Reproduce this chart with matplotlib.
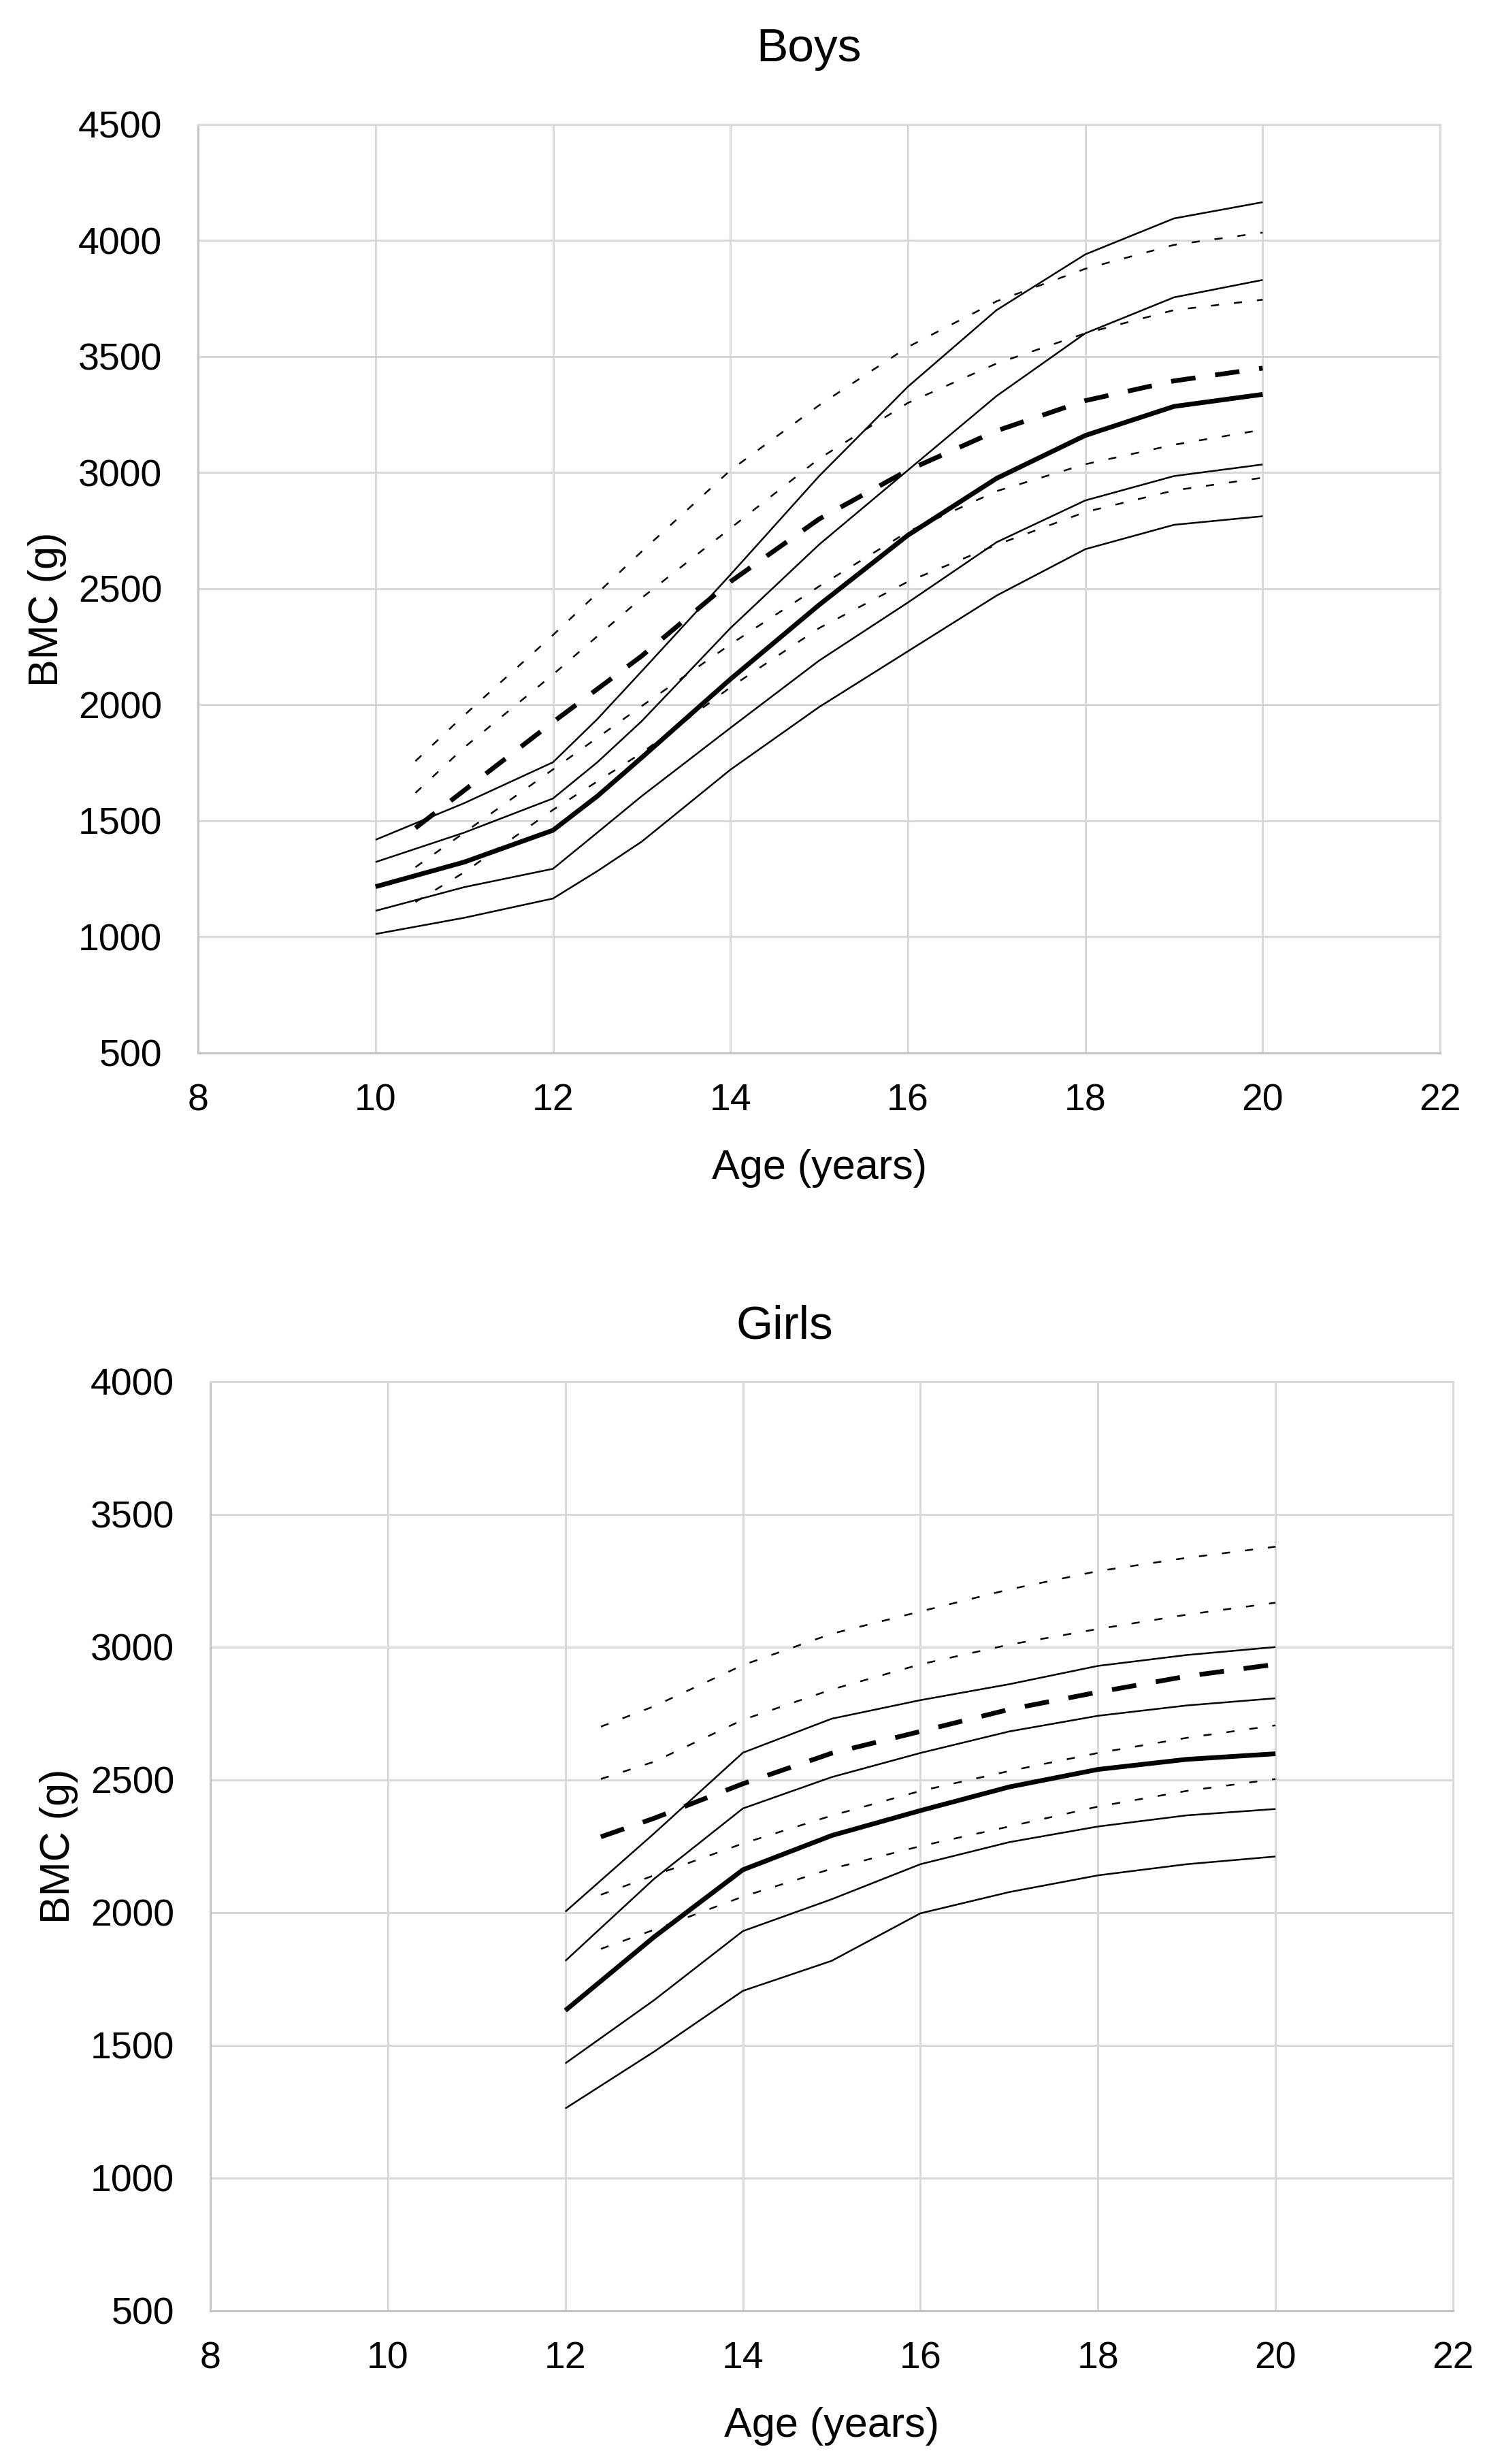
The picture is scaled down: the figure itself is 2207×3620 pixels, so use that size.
import matplotlib
matplotlib.use('Agg')
import matplotlib.pyplot as plt

# --------------------------
# Data (BMC in g, age in years)
# --------------------------
# Boys: solid curves
boys_solid_age = [10, 11, 12, 12.5, 13, 14, 15, 16, 17, 18, 19, 20]
boys_s1 = [1012, 1082, 1165, 1283, 1410, 1720, 1990, 2230, 2470, 2670, 2775, 2812]
boys_s2 = [1112, 1214, 1293, 1449, 1606, 1900, 2190, 2440, 2700, 2880, 2985, 3035]
boys_s3 = [1216, 1322, 1459, 1606, 1772, 2110, 2430, 2730, 2975, 3160, 3285, 3337]
boys_s4 = [1322, 1449, 1596, 1752, 1929, 2330, 2690, 3010, 3330, 3600, 3755, 3830]
boys_s5 = [1418, 1576, 1752, 1938, 2144, 2560, 2985, 3370, 3700, 3940, 4095, 4165]

# Boys: dashed curves
boys_dash_age = [10.45, 11, 12, 13, 14, 15, 16, 17, 18, 19, 20]
boys_d1 = [1150, 1278, 1547, 1792, 2075, 2330, 2530, 2689, 2830, 2923, 2978]
boys_d2 = [1300, 1449, 1721, 1994, 2260, 2510, 2745, 2920, 3036, 3120, 3185]
boys_d3 = [1469, 1631, 1925, 2210, 2530, 2800, 3010, 3180, 3310, 3395, 3450]
boys_d4 = [1620, 1816, 2130, 2460, 2760, 3060, 3300, 3470, 3600, 3700, 3745]
boys_d5 = [1757, 1955, 2300, 2660, 3010, 3290, 3541, 3738, 3878, 3981, 4034]

# Girls: solid curves
girls_solid_age = [12, 13, 14, 15, 16, 17, 18, 19, 20]
girls_s1 = [1262, 1476, 1705, 1818, 1997, 2077, 2140, 2182, 2211]
girls_s2 = [1432, 1670, 1930, 2050, 2182, 2265, 2324, 2366, 2390]
girls_s3 = [1631, 1908, 2161, 2290, 2384, 2473, 2539, 2577, 2598]
girls_s4 = [1818, 2127, 2392, 2510, 2601, 2682, 2741, 2780, 2807]
girls_s5 = [2003, 2298, 2602, 2730, 2800, 2860, 2929, 2970, 3000]

# Girls: dashed curves
girls_dash_age = [12.4, 13, 14, 15, 16, 17, 18, 19, 20]
girls_d1 = [1863, 1935, 2060, 2165, 2250, 2324, 2399, 2458, 2503]
girls_d2 = [2067, 2140, 2260, 2365, 2458, 2533, 2601, 2658, 2705]
girls_d3 = [2285, 2355, 2485, 2600, 2682, 2765, 2830, 2890, 2935]
girls_d4 = [2503, 2568, 2726, 2840, 2935, 3009, 3068, 3122, 3167]
girls_d5 = [2700, 2777, 2932, 3050, 3134, 3217, 3286, 3336, 3378]

x_ticks = [8, 10, 12, 14, 16, 18, 20, 22]
boys_y_ticks = [500, 1000, 1500, 2000, 2500, 3000, 3500, 4000, 4500]
girls_y_ticks = [500, 1000, 1500, 2000, 2500, 3000, 3500, 4000]

# --------------------------
# Styles
# --------------------------
plt.rcParams['font.family'] = ['Liberation Sans', 'DejaVu Sans']
grid_color = '#d9d9d9'
thin = 0.9
thick = 2.5
thin_dash = (0, (4.8, 8.8))
thick_dash = (0, (5.2, 4.2))


def draw_panel(ax, solid_age, solids, dash_age, dashes, y_ticks,
               title, title_x, title_pad, ylab_y):
    # solid curves, middle one is bold
    for i, ys in enumerate(solids):
        lw = thick if i == 2 else thin
        ax.plot(solid_age, ys, color='black', lw=lw, solid_capstyle='butt', zorder=3)
    # dashed curves, middle one is bold
    for i, ys in enumerate(dashes):
        if i == 2:
            ax.plot(dash_age, ys, color='black', lw=thick, linestyle=thick_dash,
                    dash_capstyle='butt', zorder=3)
        else:
            ax.plot(dash_age, ys, color='black', lw=thin, linestyle=thin_dash,
                    dash_capstyle='butt', zorder=3)

    ax.set_xlim(x_ticks[0], x_ticks[-1])
    ax.set_ylim(y_ticks[0], y_ticks[-1])
    ax.set_xticks(x_ticks)
    ax.set_yticks(y_ticks)
    ax.grid(True, color=grid_color, lw=1.1, zorder=0)
    ax.set_axisbelow(True)
    for sp in ax.spines.values():
        sp.set_color(grid_color)
        sp.set_linewidth(1.1)
    ax.spines['left'].set_color('#c4c4c4')
    ax.spines['bottom'].set_color('#c4c4c4')
    ax.tick_params(axis='both', length=0, labelsize=20, colors='black')
    ax.tick_params(axis='y', pad=19)
    ax.tick_params(axis='x', pad=16)
    ax.set_title(title, fontsize=25, pad=title_pad, x=title_x)
    ax.set_xlabel('Age (years)', fontsize=22, labelpad=16)
    ax.set_ylabel('BMC (g)', fontsize=22)
    ax.yaxis.set_label_coords(-0.106, ylab_y)


# --------------------------
# Figure
# --------------------------
fig = plt.figure(figsize=(11.035, 18.1), dpi=200)

ax1 = fig.add_axes([0.1319, 0.5727, 0.8269, 0.3768])
draw_panel(ax1, boys_solid_age, [boys_s1, boys_s2, boys_s3, boys_s4, boys_s5],
           boys_dash_age, [boys_d1, boys_d2, boys_d3, boys_d4, boys_d5],
           boys_y_ticks, 'Boys', 0.4915, 33.5, 0.478)

ax2 = fig.add_axes([0.1400, 0.0622, 0.8274, 0.3771])
draw_panel(ax2, girls_solid_age, [girls_s1, girls_s2, girls_s3, girls_s4, girls_s5],
           girls_dash_age, [girls_d1, girls_d2, girls_d3, girls_d4, girls_d5],
           girls_y_ticks, 'Girls', 0.462, 22.7, 0.5)

plt.savefig('out.png', dpi=200, facecolor='white')
